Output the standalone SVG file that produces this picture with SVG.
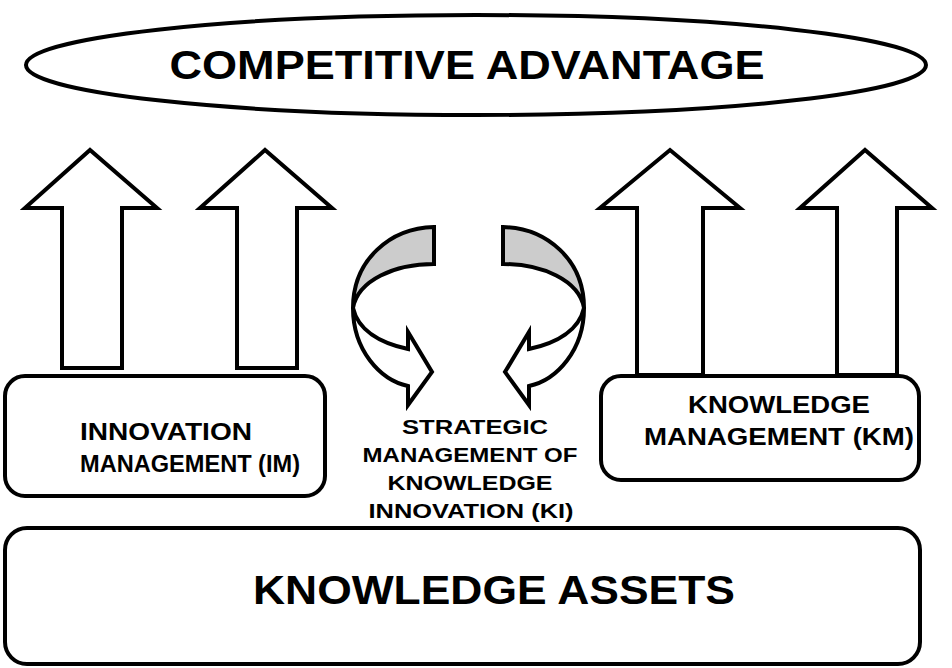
<svg xmlns="http://www.w3.org/2000/svg" width="952" height="668" viewBox="0 0 952 668">
<style>
.s{fill:#fff;stroke:#000;stroke-width:4;stroke-linejoin:miter}
.g{fill:#ccc;stroke:#000;stroke-width:4}
text{font-family:"Liberation Sans",Arial,sans-serif;font-weight:bold;text-anchor:middle}
</style>
<rect width="952" height="668" fill="#fff"/>
<g id="ca"><ellipse class="s" cx="476" cy="65" rx="450" ry="50"/><text x="467" y="79" font-size="40" textLength="595" lengthAdjust="spacingAndGlyphs">COMPETITIVE ADVANTAGE</text></g>
<g id="connectors">
<path class="s" d="M62,368 V208 H25 L90,150 L157,208 H122 V368 Z"/>
<path class="s" d="M237,368 V208 H200 L265,150 L332,208 H297 V368 Z"/>
<path class="s" d="M637,375 V208 H600 L670,150 L740,208 H703 V375 Z"/>
<path class="s" d="M837,375 V208 H800 L865,150 L932,208 H897 V375 Z"/>
<g id="cyc">
<path class="g" d="M434,227 C390,228 353,260 353,308 C358,280 395,264 434,264 Z"/>
<path class="s" d="M353,308 C353,350 380,380 408,386 L408,405 L432,372 L408,332 L408,349 C380,343 358,330 353,308 Z"/>
</g>
<use href="#cyc" transform="translate(937,0) scale(-1,1)"/>
</g>
<g id="im" font-size="23"><rect class="s" x="5" y="376" width="320" height="120" rx="20"/><text x="166" y="440" textLength="172" lengthAdjust="spacingAndGlyphs">INNOVATION</text><text x="190" y="472" textLength="220" lengthAdjust="spacingAndGlyphs">MANAGEMENT (IM)</text></g>
<g id="km" font-size="23"><rect class="s" x="601" y="376" width="318" height="104" rx="20"/><text x="779" y="413" textLength="182" lengthAdjust="spacingAndGlyphs">KNOWLEDGE</text><text x="779" y="445" textLength="270" lengthAdjust="spacingAndGlyphs">MANAGEMENT (KM)</text></g>
<g id="ka"><rect class="s" x="5" y="528" width="915" height="136" rx="22"/><text x="494" y="604" font-size="40" textLength="482" lengthAdjust="spacingAndGlyphs">KNOWLEDGE ASSETS</text></g>
<g id="ki" font-size="21"><text x="475" y="434" textLength="146" lengthAdjust="spacingAndGlyphs">STRATEGIC</text><text x="470" y="462" textLength="215" lengthAdjust="spacingAndGlyphs">MANAGEMENT OF</text><text x="470" y="490" textLength="165" lengthAdjust="spacingAndGlyphs">KNOWLEDGE</text><text x="471" y="518" textLength="205" lengthAdjust="spacingAndGlyphs">INNOVATION (KI)</text></g>
</svg>
